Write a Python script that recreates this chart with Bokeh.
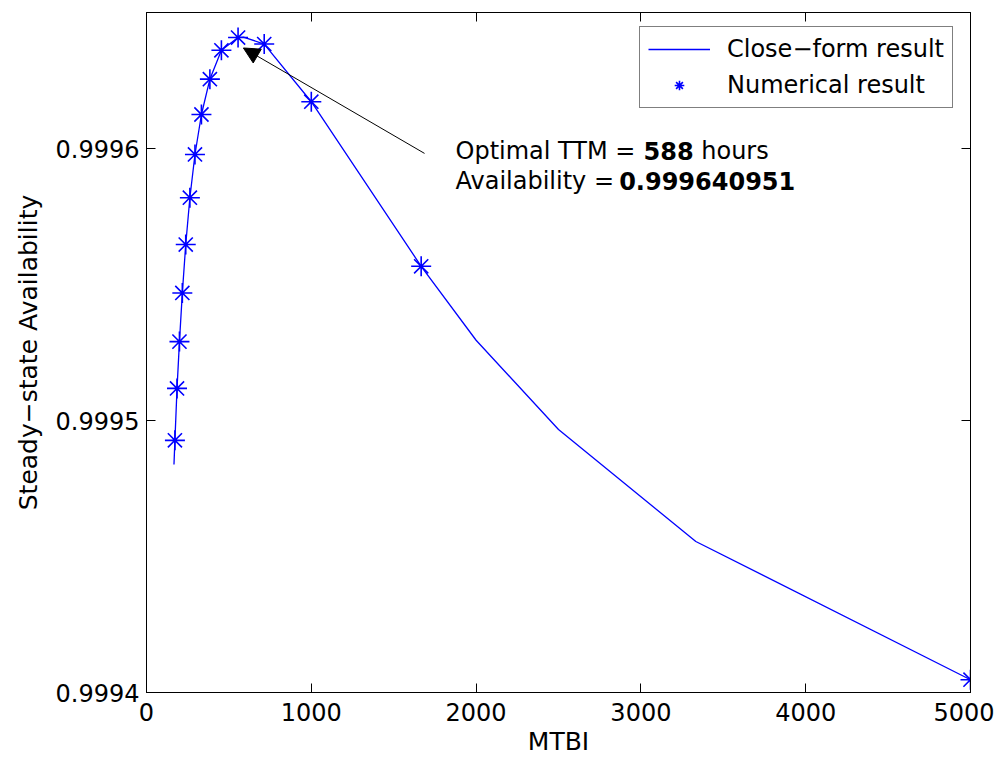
from bokeh.plotting import figure
from bokeh.models import (Range1d, FixedTicker, LinearAxis, Arrow, NormalHead,
                          Legend, LegendItem, CustomLabelingPolicy)
from bokeh.core.properties import value
from bokeh.embed import file_html
from bokeh.resources import INLINE

# ---- data ----
line_mtbi = [5000, 3333.3, 2500, 2000, 1666.7, 1000, 714.3, 588.2, 555.6, 454.5,
             384.6, 333.3, 294.1, 263.2, 238.1, 217.4, 200.0, 185.2, 172.4, 166.7]
line_avail = [0.9994047, 0.9994555, 0.9994967, 0.9995295, 0.9995567, 0.9996172,
              0.9996384, 0.99964095, 0.9996408, 0.9996361, 0.9996255, 0.9996125,
              0.9995978, 0.9995819, 0.9995647, 0.9995469, 0.9995290, 0.9995118,
              0.9994927, 0.9994838]

num_mtbi = [5000, 1666.7, 1000, 714.3, 555.6, 454.5, 384.6, 333.3, 294.1, 263.2,
            238.1, 217.4, 200.0, 185.2, 172.4]
num_avail = [0.9994047, 0.9995567, 0.9996172, 0.9996384, 0.9996408, 0.9996361,
             0.9996255, 0.9996125, 0.9995978, 0.9995819, 0.9995647, 0.9995469,
             0.9995290, 0.9995118, 0.9994927]

x_ticks = [0, 1000, 2000, 3000, 4000, 5000]
x_tick_labels = ["0", "1000", "2000", "3000", "4000", "5000"]
y_ticks = [0.9994, 0.9995, 0.9996]
y_tick_labels = ["0.9994", "0.9995", "0.9996"]

opt_mtbi = 588
opt_avail = 0.999640951
arrow_tail = (1687, 0.9995982)
text_x = 1875
text_y = [0.9995992, 0.9995882]

FONT = "DejaVu Sans"
BLUE = "#0000ff"

p = figure(width=994, height=761, output_backend="svg", toolbar_location=None,
           x_range=Range1d(0, 5000), y_range=Range1d(0.9994, 0.99965),
           min_border_left=146, min_border_right=24, min_border_top=12,
           min_border_bottom=69)
p.grid.visible = False
p.outline_line_color = "black"
p.background_fill_color = "white"
p.border_fill_color = "white"

no_labels = CustomLabelingPolicy(code="for (const i of indices) if (i < 0) yield i")

def style_axis(ax, ticks, labels, show_labels=True):
    ax.ticker = FixedTicker(ticks=ticks)
    ax.major_tick_in = 9
    ax.major_tick_out = 0
    ax.minor_tick_line_color = None
    ax.axis_line_color = "black"
    ax.major_tick_line_color = "black"
    ax.major_label_text_font = FONT
    ax.major_label_text_color = "black"
    if show_labels:
        ax.major_label_text_font_size = "24px"
        ax.major_label_overrides = {t: l for t, l in zip(ticks, labels)}
    else:
        ax.major_label_text_font_size = "1px"
        ax.major_label_policy = no_labels
        ax.major_label_standoff = 0

xa = p.xaxis[0]
style_axis(xa, x_ticks, x_tick_labels)
xa.major_label_standoff = 10
xa.axis_label = "MTBI"
xa.axis_label_text_font = FONT
xa.axis_label_text_font_size = "25px"
xa.axis_label_text_font_style = "normal"
xa.axis_label_text_color = "black"
xa.axis_label_standoff = 3

ya = p.yaxis[0]
style_axis(ya, y_ticks, y_tick_labels)
ya.major_label_standoff = 7
ya.axis_label = "Steady\u2212state Availability"
ya.axis_label_text_font = FONT
ya.axis_label_text_font_size = "25px"
ya.axis_label_text_font_style = "normal"
ya.axis_label_text_color = "black"
ya.axis_label_standoff = 10

top = LinearAxis()
style_axis(top, x_ticks, x_tick_labels, show_labels=False)
p.add_layout(top, "above")
right = LinearAxis()
style_axis(right, y_ticks, y_tick_labels, show_labels=False)
p.add_layout(right, "right")

r_line = p.line(line_mtbi, line_avail, line_color=BLUE, line_width=1.3)
r_pts = p.scatter(num_mtbi, num_avail, marker="asterisk", size=20,
                  line_color=BLUE, line_width=1.6)

p.add_layout(Arrow(end=NormalHead(size=16, fill_color="black", line_color="black"),
                   x_start=arrow_tail[0], y_start=arrow_tail[1],
                   x_end=opt_mtbi, y_end=opt_avail - 0.0000040,
                   line_color="black", line_width=1))

def txt(x, y, s, off, bold=False):
    p.text(x=[x], y=[y], text=[s], x_offset=off, text_font=value(FONT),
           text_font_size="24px", text_baseline="alphabetic", text_align="left",
           text_color="black", text_font_style="bold" if bold else "normal")

# widths (DejaVu Sans, 24px): "Optimal TTM = " = 7834 units, "588" bold = 2088, space = 318
txt(text_x, text_y[0], "Optimal TTM =", 0)
txt(text_x, text_y[0], "%d" % opt_mtbi, 7834 * 0.024, bold=True)
txt(text_x, text_y[0], "hours", (7834 + 2088 + 318) * 0.024)
# "Availability = " = 6985 units
txt(text_x, text_y[1], "Availability =", 0)
txt(text_x, text_y[1], "%.9f" % opt_avail, 6985 * 0.024 - 4, bold=True)

legend = Legend(items=[LegendItem(label="Close\u2212form result", renderers=[r_line]),
                       LegendItem(label="Numerical result", renderers=[r_pts])],
                location=(493, 584), orientation="vertical")
legend.label_text_font = FONT
legend.label_text_font_size = "24px"
legend.label_text_color = "black"
legend.border_line_color = "black"
legend.border_line_width = 1
legend.background_fill_color = "white"
legend.background_fill_alpha = 1
legend.padding = 8
legend.spacing = 8
legend.glyph_height = 24
legend.label_height = 24
legend.glyph_width = 62
legend.label_standoff = 17
legend.margin = 0
p.add_layout(legend, "center")

open("out.html", "w").write(file_html(p, INLINE))
